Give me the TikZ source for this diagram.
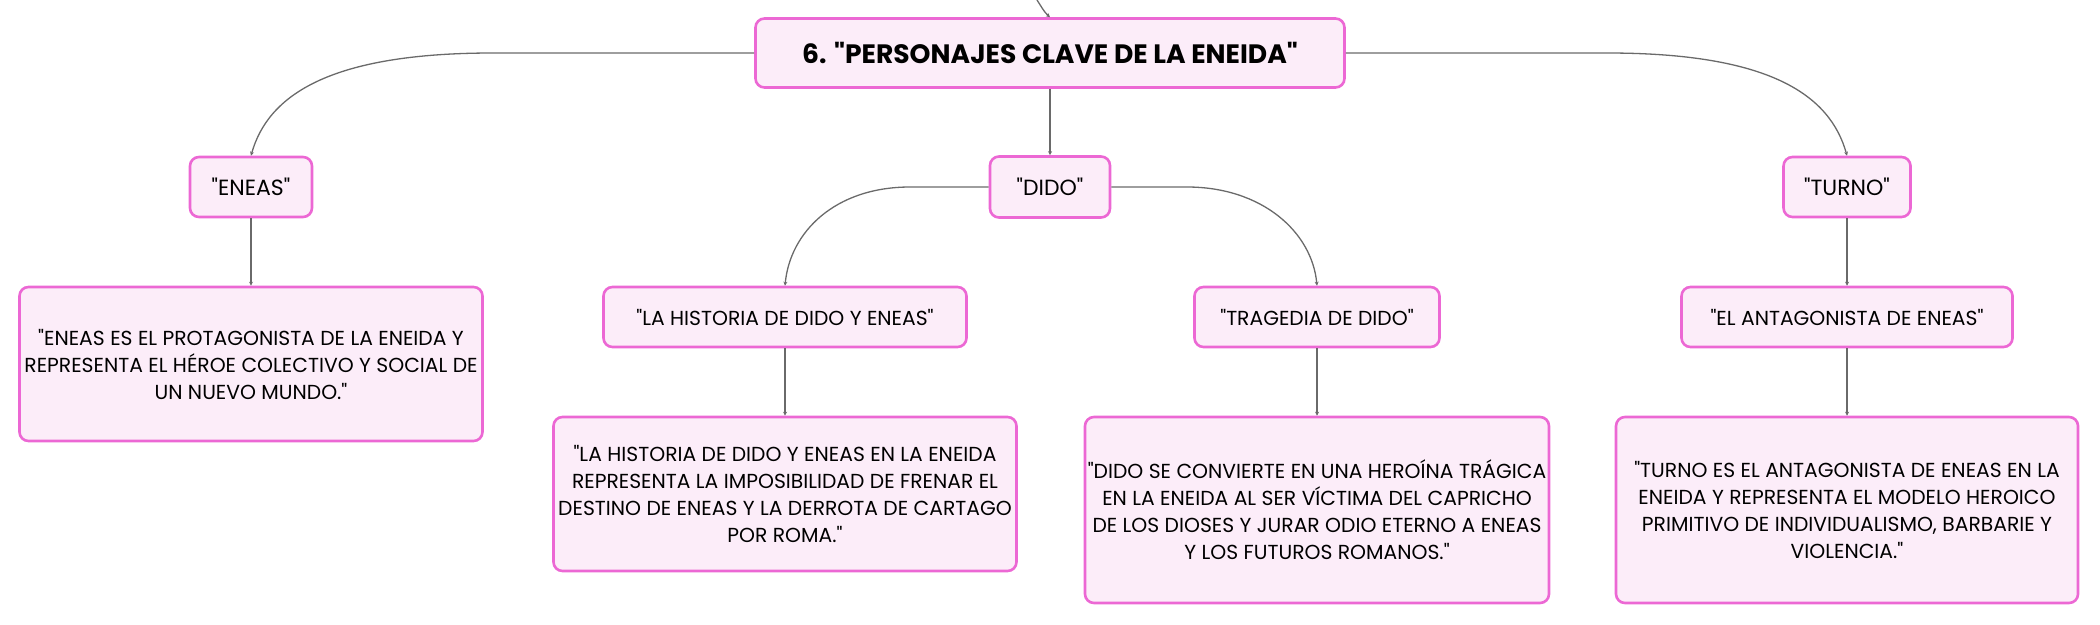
\documentclass[tikz,border=0pt]{standalone}
\usepackage{fontspec}
\setmainfont{Poppins}[Ligatures=TeXOff]
\usetikzlibrary{arrows.meta}
\definecolor{boxline}{HTML}{EC68D4}
\definecolor{boxfill}{HTML}{FCEDF9}
\definecolor{conn}{HTML}{6A6A6A}
\tikzset{
  mbox/.style={draw=boxline, fill=boxfill, line width=2.6pt, rounded corners=9pt,
    inner sep=0pt, align=center, text=black, font=\fontsize{20.3}{27}\selectfont},
  topicbox/.style={mbox, font=\fontsize{22}{27}\selectfont},
  rootbox/.style={mbox, font=\fontsize{26.6}{30}\selectfont\bfseries},
  link/.style={draw=conn, line width=1.3pt, -{Stealth[length=4pt,width=4pt]}},
}
\begin{document}
\begin{tikzpicture}[x=1pt,y=-1pt]
\useasboundingbox (0,0) rectangle (2100,624);
\node[rootbox, minimum width=589pt, minimum height=69pt] (root) at (1050,53) {6. "PERSONAJES CLAVE DE LA ENEIDA"};
\node[topicbox, minimum width=122pt, minimum height=60pt] (eneas) at (251,187) {"ENEAS"};
\node[topicbox, minimum width=120pt, minimum height=61pt] (dido) at (1050,187) {"DIDO"};
\node[topicbox, minimum width=127pt, minimum height=60pt] (turno) at (1847,187) {"TURNO"};
\node[mbox, minimum width=363pt, minimum height=60pt] (hist) at (785,317) {"LA HISTORIA DE DIDO Y ENEAS"};
\node[mbox, minimum width=245pt, minimum height=60pt] (trag) at (1317,317) {"TRAGEDIA DE DIDO"};
\node[mbox, minimum width=331pt, minimum height=60pt] (antag) at (1847,317) {"EL ANTAGONISTA DE ENEAS"};
\node[mbox, minimum width=463pt, minimum height=154pt] (deneas) at (251,364) {"ENEAS ES EL PROTAGONISTA DE LA ENEIDA Y\\REPRESENTA EL HÉROE COLECTIVO Y SOCIAL DE\\UN NUEVO MUNDO."};
\node[mbox, minimum width=463pt, minimum height=154pt] (dhist) at (785,494) {"LA HISTORIA DE DIDO Y ENEAS EN LA ENEIDA\\REPRESENTA LA IMPOSIBILIDAD DE FRENAR EL\\DESTINO DE ENEAS Y LA DERROTA DE CARTAGO\\POR ROMA."};
\node[mbox, minimum width=464pt, minimum height=186pt] (dtrag) at (1317,510) {"DIDO SE CONVIERTE EN UNA HEROÍNA TRÁGICA\\EN LA ENEIDA AL SER VÍCTIMA DEL CAPRICHO\\DE LOS DIOSES Y JURAR ODIO ETERNO A ENEAS\\Y LOS FUTUROS ROMANOS."};
\node[mbox, minimum width=462pt, minimum height=186pt] (dturno) at (1847,510) {"TURNO ES EL ANTAGONISTA DE ENEAS EN LA\\ENEIDA Y REPRESENTA EL MODELO HEROICO\\PRIMITIVO DE INDIVIDUALISMO, BARBARIE Y\\VIOLENCIA."};
\coordinate (top) at (1037,0);
\draw[link] (top) .. controls (1041,6) and (1044,12) .. (root.north);
\draw[link] (root.west) -- (493,53) .. controls (330,53) and (268,95) .. (eneas.north);
\draw[link] (root.east) -- (1607,53) .. controls (1770,53) and (1830,95) .. (turno.north);
\draw[link] (root.south) -- (dido.north);
\draw[link] (dido.west) -- (910,187) .. controls (835,187) and (790,232) .. (hist.north);
\draw[link] (dido.east) -- (1187,187) .. controls (1262,187) and (1312,232) .. (trag.north);
\draw[link] (eneas.south) -- (deneas.north);
\draw[link] (turno.south) -- (antag.north);
\draw[link] (antag.south) -- (dturno.north);
\draw[link] (hist.south) -- (dhist.north);
\draw[link] (trag.south) -- (dtrag.north);
\end{tikzpicture}
\end{document}
